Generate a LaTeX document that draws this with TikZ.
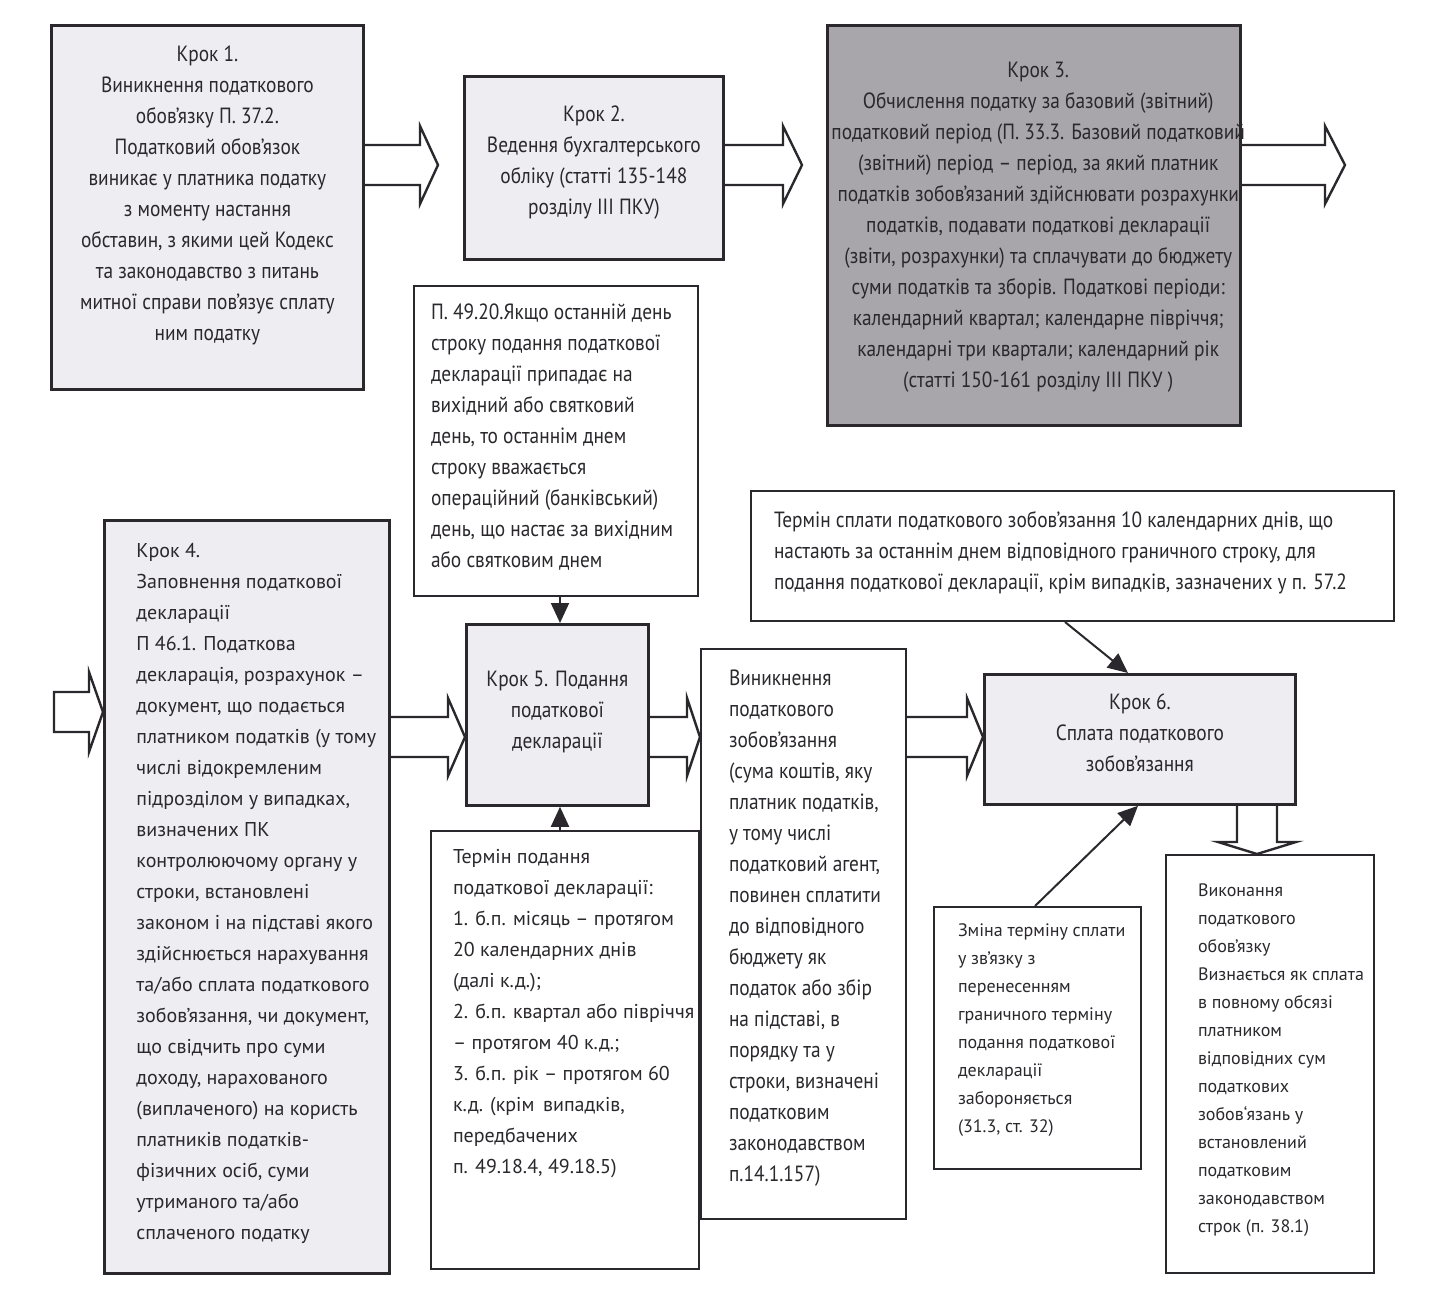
\documentclass[tikz,border=0pt]{standalone}
\usepackage{fontspec}
\setsansfont{PT Sans}
\newfontfamily\condf[FakeStretch=0.88]{PT Sans}
\usetikzlibrary{positioning,calc,arrows.meta}
\definecolor{boxfill}{RGB}{238,237,241}
\definecolor{darkfill}{RGB}{168,166,171}
\definecolor{ink}{RGB}{42,40,44}

% wide block arrows: tail, tip, head length
\newcommand{\rarrow}[3]{%
  \draw[barrow] let \p1=(#1), \p2=(#2) in
    (\x1,\y1+10pt) -- (\x2-#3,\y1+10pt) -- (\x2-#3,\y1+19.5pt) -- (\x2,\y1)
    -- (\x2-#3,\y1-19.5pt) -- (\x2-#3,\y1-10pt) -- (\x1,\y1-10pt);}
\newcommand{\darrow}[3]{%
  \draw[barrow] let \p1=(#1), \p2=(#2) in
    (\x1-10pt,\y1) -- (\x1-10pt,\y2+#3) -- (\x1-19.5pt,\y2+#3) -- (\x2,\y2)
    -- (\x1+19.5pt,\y2+#3) -- (\x1+10pt,\y2+#3) -- (\x1+10pt,\y1);}

\begin{document}
\begin{tikzpicture}[x=0.5pt,y=-0.5pt,font=\sffamily]
    \tikzstyle{stepbox}=[draw=ink, line width=1.4pt, fill=boxfill, anchor=north west, text=ink]
    \tikzstyle{notebox}=[draw=ink, line width=1pt, fill=white, anchor=north west, text=ink]
    \tikzstyle{barrow}=[draw=ink, line width=1.2pt]
    \tikzstyle{pointer}=[draw=ink, line width=1pt, -{Triangle[width=9pt,length=10pt]}]
    \tikzstyle{condtext}=[font=\condf\fontsize{11}{15.5}\selectfont]
    \tikzstyle{widetext}=[font=\sffamily\fontsize{10}{15.5}\selectfont]
    \tikzstyle{smalltext}=[font=\sffamily\fontsize{9}{14}\selectfont]
    \useasboundingbox (0,0) rectangle (1448,1301);

    % top row
    \node[stepbox,condtext,inner xsep=3pt,inner ysep=7pt] (step1) at (50,24)
      {\parbox[c][168pt][t]{150pt}{\centering\begin{tabular}{@{}c@{}}
        Крок 1.\\
        Виникнення податкового\\
        обов’язку П. 37.2.\\
        Податковий обов’язок\\
        виникає у платника податку\\
        з моменту настання\\
        обставин, з якими цей Кодекс\\
        та законодавство з питань\\
        митної справи пов’язує сплату\\
        ним податку
      \end{tabular}}};
    \node[stepbox,condtext,inner xsep=3pt,inner ysep=11.5pt] (step2) at (463,75)
      {\parbox[c][68.5pt][t]{123.5pt}{\centering\begin{tabular}{@{}c@{}}
        Крок 2.\\
        Ведення бухгалтерського\\
        обліку (статті 135-148\\
        розділу III ПКУ)
      \end{tabular}}};
    \node[stepbox,condtext,fill=darkfill,inner xsep=2pt,inner ysep=15pt] (step3) at (826,24)
      {\parbox[c][170pt][t]{202.5pt}{\centering\begin{tabular}{@{}c@{}}
        Крок 3.\\
        Обчислення податку за базовий (звітний)\\
        податковий період (П. 33.3. Базовий податковий\\
        (звітний) період – період, за який платник\\
        податків зобов’язаний здійснювати розрахунки\\
        податків, подавати податкові декларації\\
        (звіти, розрахунки) та сплачувати до бюджету\\
        суми податків та зборів. Податкові періоди:\\
        календарний квартал; календарне півріччя;\\
        календарні три квартали; календарний рік\\
        (статті 150-161 розділу III ПКУ )
      \end{tabular}}};

    % notes round step 5
    \node[notebox,condtext,inner xsep=8.5pt,inner ysep=6pt] (rule4920) at (413,285)
      {\parbox[c][143pt][t]{125pt}{\begin{tabular}{@{}l@{}}
        П. 49.20.Якщо останній день\\
        строку подання податкової\\
        декларації припадає на\\
        вихідний або святковий\\
        день, то останнім днем\\
        строку вважається\\
        операційний (банківський)\\
        день, що настає за вихідним\\
        або святковим днем
      \end{tabular}}};
    \node[notebox,condtext,inner xsep=11.5pt,inner ysep=7.5pt] (paydeadline) at (750,490)
      {\parbox[c][50pt][t]{298.5pt}{\begin{tabular}{@{}l@{}}
        Термін сплати податкового зобов’язання 10 календарних днів, що\\
        настають за останнім днем відповідного граничного строку, для\\
        подання податкової декларації, крім випадків, зазначених у п. 57.2
      \end{tabular}}};

    % bottom row
    \node[stepbox,widetext,inner xsep=16pt,inner ysep=7.5pt] (step4) at (103,519)
      {\parbox[c][361.5pt][t]{110.5pt}{\begin{tabular}{@{}l@{}}
        Крок 4.\\
        Заповнення податкової\\
        декларації\\
        П 46.1. Податкова\\
        декларація, розрахунок –\\
        документ, що подається\\
        платником податків (у тому\\
        числі відокремленим\\
        підрозділом у випадках,\\
        визначених ПК\\
        контролюючому органу у\\
        строки, встановлені\\
        законом і на підставі якого\\
        здійснюється нарахування\\
        та/або сплата податкового\\
        зобов’язання, чи документ,\\
        що свідчить про суми\\
        доходу, нарахованого\\
        (виплаченого) на користь\\
        платників податків-\\
        фізичних осіб, суми\\
        утриманого та/або\\
        сплаченого податку
      \end{tabular}}};
    \node[stepbox,condtext,inner xsep=2pt,inner ysep=20pt] (step5) at (465,623)
      {\parbox[c][50.5pt][t]{87pt}{\centering\begin{tabular}{@{}c@{}}
        Крок 5. Подання\\
        податкової\\
        декларації
      \end{tabular}}};
    \node[notebox,widetext,inner xsep=11pt,inner ysep=5.5pt] (deadline) at (430,830)
      {\parbox[c][208pt][t]{112pt}{\begin{tabular}{@{}l@{}}
        Термін подання\\
        податкової декларації:\\
        1. б.п. місяць – протягом\\
        20 календарних днів\\
        (далі к.д.);\\
        2. б.п. квартал або півріччя\\
        – протягом 40 к.д.;\\
        3. б.п. рік – протягом 60\\
        к.д. (крім\, випадків,\\
        передбачених\\
        п. 49.18.4, 49.18.5)
      \end{tabular}}};
    \node[notebox,condtext,inner xsep=14pt,inner ysep=7.5pt] (liability) at (700,648)
      {\parbox[c][270pt][t]{74.5pt}{\begin{tabular}{@{}l@{}}
        Виникнення\\
        податкового\\
        зобов’язання\\
        (сума коштів, яку\\
        платник податків,\\
        у тому числі\\
        податковий агент,\\
        повинен сплатити\\
        до відповідного\\
        бюджету як\\
        податок або збір\\
        на підставі, в\\
        порядку та у\\
        строки, визначені\\
        податковим\\
        законодавством\\
        п.14.1.157)
      \end{tabular}}};
    \node[stepbox,condtext,inner xsep=2pt,inner ysep=6.5pt] (step6) at (983,673)
      {\parbox[c][52pt][t]{151.5pt}{\centering\begin{tabular}{@{}c@{}}
        Крок 6.\\
        Сплата податкового\\
        зобов’язання
      \end{tabular}}};
    \node[notebox,smalltext,inner xsep=12pt,inner ysep=5pt] (postpone) at (933,906)
      {\parbox[c][121pt][t]{79.5pt}{\begin{tabular}{@{}l@{}}
        Зміна терміну сплати\\
        у зв’язку з\\
        перенесенням\\
        граничного терміну\\
        подання податкової\\
        декларації\\
        забороняється\\
        (31.3, ст. 32)
      \end{tabular}}};
    \node[notebox,smalltext,inner xsep=16pt,inner ysep=11pt] (fulfil) at (1165,854)
      {\parbox[c][187pt][t]{72pt}{\begin{tabular}{@{}l@{}}
        Виконання\\
        податкового\\
        обов’язку\\
        Визнається як сплата\\
        в повному обсязі\\
        платником\\
        відповідних сум\\
        податкових\\
        зобов`язань у\\
        встановлений\\
        податковим\\
        законодавством\\
        строк (п. 38.1)
      \end{tabular}}};

    % block arrows
    \coordinate (t12) at (step1.east |- 0,165);
    \coordinate (h12) at (438,165);
    \rarrow{t12}{h12}{9pt}
    \coordinate (t23) at (step2.east |- 0,165);
    \coordinate (h23) at (802,165);
    \rarrow{t23}{h23}{9.5pt}
    \coordinate (t3o) at (step3.east |- 0,165);
    \coordinate (h3o) at (1345,165);
    \rarrow{t3o}{h3o}{10pt}
    \coordinate (tin) at (54,712);
    \coordinate (hin) at (step4.west |- 0,712);
    \draw[barrow] let \p1=(tin), \p2=(hin) in
      (\x1,\y1+10pt) -- (\x2-7pt,\y1+10pt) -- (\x2-7pt,\y1+20pt) -- (\x2,\y1)
      -- (\x2-7pt,\y1-20pt) -- (\x2-7pt,\y1-10pt) -- (\x1,\y1-10pt) -- cycle;
    \coordinate (t45) at (step4.east |- 0,737);
    \coordinate (h45) at (step5.west |- 0,737);
    \rarrow{t45}{h45}{8.5pt}
    \coordinate (t5l) at (step5.east |- 0,737);
    \coordinate (h5l) at (liability.west |- 0,737);
    \rarrow{t5l}{h5l}{6.5pt}
    \coordinate (tl6) at (liability.east |- 0,737);
    \coordinate (hl6) at (step6.west |- 0,737);
    \rarrow{tl6}{hl6}{8pt}
    \coordinate (t6f) at (step6.south -| 1257,0);
    \coordinate (h6f) at (fulfil.north -| 1257,0);
    \darrow{t6f}{h6f}{6pt}

    % pointers
    \draw[pointer] (rule4920.south -| 560,0) -- (step5.north -| 560,0);
    \draw[pointer] (deadline.north -| 560,0) -- (step5.south -| 560,0);
    \draw[pointer] (paydeadline.south -| 1065,0) -- (step6.north -| 1128,0);
    \draw[pointer] (postpone.north -| 1035,0) -- (step6.south -| 1138,0);
\end{tikzpicture}
\end{document}
